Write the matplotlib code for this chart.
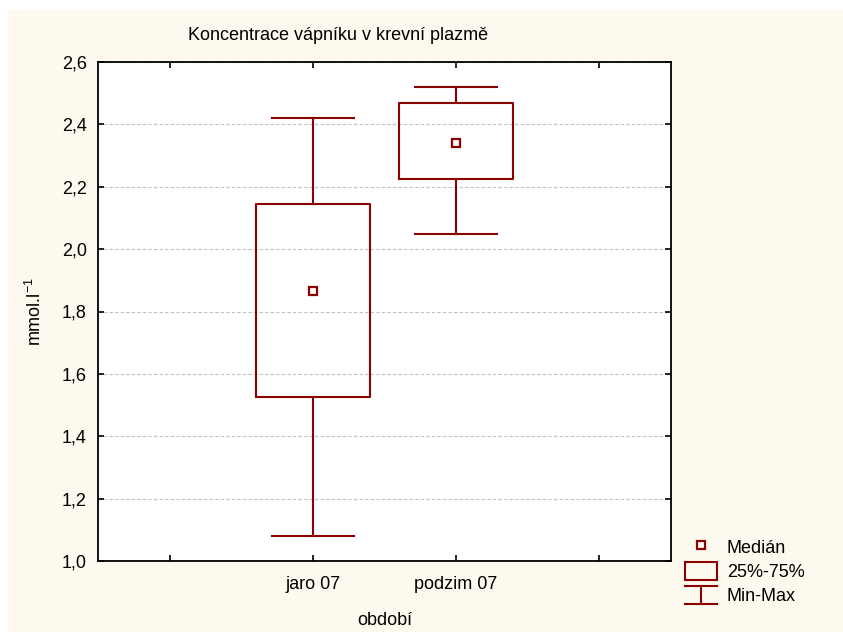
import matplotlib
matplotlib.use("Agg")
import matplotlib.pyplot as plt
from matplotlib.lines import Line2D
from matplotlib.patches import Rectangle
from matplotlib.legend_handler import HandlerBase
from matplotlib.ticker import FuncFormatter

plt.rcParams["font.family"] = ["Liberation Sans", "DejaVu Sans"]
plt.rcParams["mathtext.default"] = "regular"

# data
periods = ["jaro 07", "podzim 07"]
minimum = [1.08, 2.05]
q25 = [1.525, 2.225]
median = [1.865, 2.34]
q75 = [2.145, 2.47]
maximum = [2.42, 2.52]

red = "#8b0000"
beige = "#fef9ee"
fs = 13


class MinMaxHandler(HandlerBase):
    def create_artists(self, legend, orig_handle, xdescent, ydescent,
                       width, height, fontsize, trans):
        x0, y0 = -xdescent, -ydescent
        xm = x0 + width / 2
        lines = [
            Line2D([x0, x0 + width], [y0 + height, y0 + height]),
            Line2D([x0, x0 + width], [y0, y0]),
            Line2D([xm, xm], [y0, y0 + height]),
        ]
        for ln in lines:
            ln.set_color(red)
            ln.set_linewidth(1.5)
            ln.set_transform(trans)
        return lines


fig = plt.figure(figsize=(8.43, 6.32), dpi=100)
fig.patch.set_facecolor("white")
fig.add_artist(Rectangle((8 / 843, 0), 1, 1 - 10 / 632, transform=fig.transFigure,
                         facecolor=beige, edgecolor="none", zorder=-10))

ax = fig.add_axes([98 / 843, 1 - 561 / 632, 573 / 843, 499 / 632])
ax.set_facecolor("white")

stats = []
for i, name in enumerate(periods):
    stats.append(dict(label=name, med=median[i], q1=q25[i], q3=q75[i],
                      whislo=minimum[i], whishi=maximum[i], fliers=[]))

pos = list(range(len(periods)))
lp = dict(color=red, linewidth=1.5)
ax.bxp(stats, positions=pos, widths=0.8, capwidths=0.57, showfliers=False,
       boxprops=lp, whiskerprops=lp, capprops=lp,
       medianprops=dict(linestyle="none"), manage_ticks=False, zorder=3)
ax.plot(pos, median, linestyle="none", marker="s", markersize=6,
        markerfacecolor="white", markeredgecolor=red, markeredgewidth=1.6, zorder=4)

ax.set_xlim(-1.5, 2.5)
ax.set_ylim(1.0, 2.6)
ax.set_xticks([-1, 0, 1, 2])
ax.set_xticklabels(["", periods[0], periods[1], ""])
ax.set_yticks([1.0, 1.2, 1.4, 1.6, 1.8, 2.0, 2.2, 2.4, 2.6])
ax.yaxis.set_major_formatter(FuncFormatter(lambda v, p: f"{v:.1f}".replace(".", ",")))
ax.tick_params(direction="in", length=4, width=1.2, top=True, right=True,
               labelsize=fs, colors="black")
ax.tick_params(axis="y", pad=8)
ax.tick_params(axis="x", pad=10.5)
ax.grid(axis="y", color="#c0c0c0", linestyle=(0, (3, 2)), linewidth=0.8, zorder=0)
ax.set_axisbelow(True)
for s in ax.spines.values():
    s.set_linewidth(1.3)
    s.set_color("black")

ax.set_xlabel("období", fontsize=fs, labelpad=14)
ax.set_ylabel("mmol.l$^{-1}$", fontsize=fs, labelpad=12)
fig.text(338 / 843, 1 - 36 / 632, "Koncentrace vápníku v krevní plazmě",
         fontsize=fs, ha="center", va="center")

h_med = Line2D([], [], linestyle="none", marker="s", markersize=6,
               markerfacecolor="white", markeredgecolor=red, markeredgewidth=1.6)
h_box = Rectangle((0, 0), 1, 1, facecolor="none", edgecolor=red, linewidth=1.5)
h_mm = object()
fig.legend([h_med, h_box, h_mm], ["Medián", "25%-75%", "Min-Max"],
           handler_map={h_mm: MinMaxHandler()},
           loc="upper left", bbox_to_anchor=(685 / 843, 1 - 538 / 632),
           frameon=False, fontsize=fs, borderpad=0, borderaxespad=0,
           handlelength=1.77, handleheight=1.1, handletextpad=0.55,
           labelspacing=0.3)

fig.savefig("out.png", dpi=100, facecolor=fig.get_facecolor())
